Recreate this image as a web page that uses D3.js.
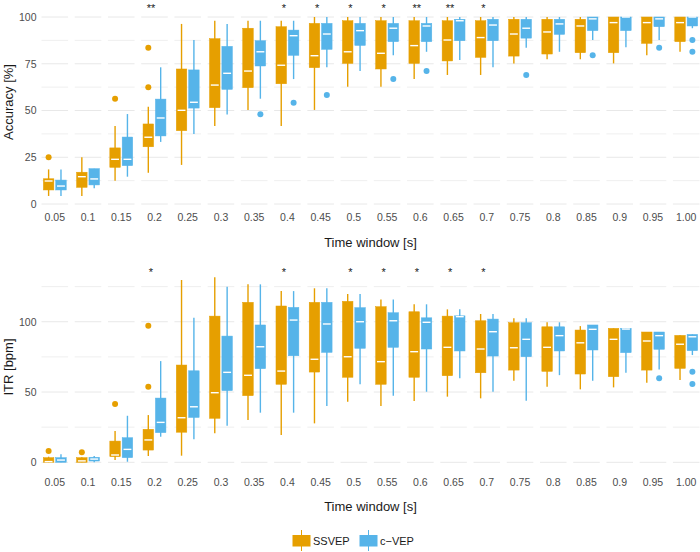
<!DOCTYPE html>
<html>
<head>
<meta charset="utf-8">
<script src="https://cdn.jsdelivr.net/npm/d3@7"></script>
<style>
  body { margin: 0; background: #fff; }
  svg text { font-family: "Liberation Sans", Arial, sans-serif; }
</style>
</head>
<body>
<svg id="chart" width="700" height="552"></svg>
<script>
// time windows (x categories)
const windows = ["0.05","0.1","0.15","0.2","0.25","0.3","0.35","0.4","0.45","0.5",
  "0.55","0.6","0.65","0.7","0.75","0.8","0.85","0.9","0.95","1.00"];
const groups = ["SSVEP", "c\u2212VEP"];
const colors = ["#E69F00", "#56B4E9"];

// box stats per window: [lower whisker, q1, median, q3, upper whisker]
const accSsvep = [
  [4.3,7.5,12.3,13.5,18.5],[4.3,8.9,14.6,17,25],[12.5,19.6,23.9,30,41.7],[16.7,30.6,35.7,42.8,52],
  [20.9,39.2,50.1,72.2,96.3],[41.7,51.5,63.6,88.4,98],[50.3,62.2,71.1,94,98],[41.7,64.3,74.2,94.8,98],
  [50.3,72.9,79.3,96.6,100],[62.7,75.2,81.4,98,100],[62.7,72.2,80.6,98,100],[66.8,75.2,84.7,98,100],
  [69,76.5,87.7,98,100],[69,78.4,89,98,100],[75.2,79.1,90.9,98.8,100],[77.4,80.2,92,98.8,100],
  [77.4,80.9,95.2,98.8,100],[75.2,80.9,97,100,100],[79.5,85.9,97,100,100],[81.4,86.8,97,100,100]
];
const accCvep = [
  [4.3,7.5,9.6,12.8,18.5],[8.4,10.2,13.4,18.9,18.9],[14.6,20.5,23.9,35.8,48.1],[33.2,36.4,46,56.1,73.1],
  [37.4,51.3,54.4,71.7,87.7],[47.9,61.3,69.9,84.3,96.3],[56.3,73.8,81.4,87.3,98],[66.8,79.5,90,93,98],
  [73.1,82.7,90.9,96.6,100],[71.1,84.8,92.7,96.6,100],[79.5,86.8,94,96.6,100],[81.4,86.8,95.2,96.6,100],
  [77,87.3,98,98.8,100],[73.1,87.3,95.7,98.8,100],[83.6,88.7,94,98.8,100],[81.4,90.7,96.3,98.8,100],
  [87.7,92.7,99,100,100],[83.8,92.7,100,100,100],[87.7,94.8,99,100,100],[94,95.2,100,100,100]
];
const accSsvepOut = [[25],[],[56.3],[62.4,83.6],[],[],[],[],[],[],[],[],[],[],[],[],[],[],[],[]];
const accCvepOut = [[],[],[],[],[],[],[48],[54.2],[58.3],[],[66.8],[71.1],[],[],[69],[],[79.5],[],[83.6],[87.7,81.4]];

const itrSsvep = [
  [0,0,0.5,3.3,4],[0,0,1,3.3,3.6],[1.6,4,5.2,15.1,22.3],[4.5,8.7,15.9,23.5,33.6],
  [4.7,21.4,31.7,69.2,129.7],[20.6,31.3,49.5,104,131.6],[30.1,47.4,61.9,113.8,126.6],[19.4,55.5,64.9,111.2,121.8],
  [27.7,64.2,73.3,113.8,123.8],[43.1,60.5,75.1,114.5,119.7],[40,55.5,71.6,110.7,115.9],[43.6,60.5,78.7,107.1,112.4],
  [46.7,61.6,81.8,104,108.8],[45.5,63.7,80.6,100.7,105.5],[58,65.6,81.5,99.3,102.4],[53.8,64.7,81.8,96.4,99.6],
  [51.9,62.8,85,94.1,96.9],[53.3,60.9,87.5,95.3,95.3],[56.6,65.6,86.3,92.7,92.7],[58.5,66.8,84,90.3,90.3]
];
const itrCvep = [
  [0,0,1.6,3.3,5.7],[0,0.9,2.3,3.6,4.5],[0.4,3.3,9.2,17.5,33.1],[18.2,21.1,28.4,45.7,72],
  [16.4,31.9,39.5,65.1,102.8],[26,51,64,89.8,124.9],[35.3,66.6,82.2,97.7,126.6],[35.3,75.8,101.2,110.2,121.8],
  [40,78.2,98.4,113.8,123.8],[55.5,81.1,100,110,119.7],[47.3,81.8,100.7,106.4,115.9],[50.2,80.6,99.6,102.8,112.4],
  [59.8,79.2,103.6,104.2,108.8],[50.2,75.6,92.9,101.9,105.5],[43.8,75.1,87.5,99.3,102.4],[62,79.2,90.1,96.4,99.6],
  [58,79.9,94.6,97.7,97.7],[63.7,78,94.8,95.3,95.3],[66.1,80.4,90.1,92.7,92.7],[76.3,79.4,89.3,91,91]
];
const itrSsvepOut = [[8],[7.1],[41.5],[53.8,97.2],[],[],[],[],[],[],[],[],[],[],[],[],[],[],[],[]];
const itrCvepOut = [[],[],[],[],[],[],[],[],[],[],[],[],[],[],[],[],[],[],[59.8],[64.5,55.7]];

// significance markers per window
const accSig = ["","","","**","","","","*","*","*","*","**","**","*","","","","","",""];
const itrSig = ["","","","*","","","","*","","*","*","*","*","*","","","","","",""];

// axis ticks and grid lines
const accTicks = [0, 25, 50, 75, 100];
const accGrid = [0, 12.5, 25, 37.5, 50, 62.5, 75, 87.5, 100];
const itrTicks = [0, 50, 100];
const itrGrid = [0, 25, 50, 75, 100, 125];

const svg = d3.select("#chart");

const x = d3.scaleBand()
  .domain(windows)
  .range([41.5, 699.5])
  .paddingInner(0.2)
  .paddingOuter(0);

const xg = d3.scaleBand()
  .domain(groups)
  .range([0, x.bandwidth()])
  .paddingInner(0.15)
  .paddingOuter(0.15);

const panels = [
  { title: "Accuracy [%]", y: d3.scaleLinear().domain([0, 100]).range([204, 17]),
    ticks: accTicks, grid: accGrid, stats: [accSsvep, accCvep], outs: [accSsvepOut, accCvepOut],
    sig: accSig, sigY: 12, axisY: 213.5, xTitleY: 247, yTitleY: 102 },
  { title: "ITR [bpm]", y: d3.scaleLinear().domain([0, 125]).range([462.3, 286.6]),
    ticks: itrTicks, grid: itrGrid, stats: [itrSsvep, itrCvep], outs: [itrSsvepOut, itrCvepOut],
    sig: itrSig, sigY: 276, axisY: 478.5, xTitleY: 511, yTitleY: 367 }
];

panels.forEach(p => {
  const g = svg.append("g");
  const y = p.y;

  // grid segments, one per facet
  windows.forEach(w => {
    g.selectAll(null)
      .data(p.grid)
      .enter()
      .append("line")
      .attr("x1", x(w))
      .attr("x2", x(w) + x.bandwidth())
      .attr("y1", d => y(d))
      .attr("y2", d => y(d))
      .attr("stroke", "#e8e8e8")
      .attr("stroke-width", d => p.ticks.includes(d) ? 1 : 0.7);
  });

  // y axis
  const yAxis = g.append("g")
    .attr("transform", "translate(41.5,0)")
    .call(d3.axisLeft(y).tickValues(p.ticks).tickSize(0).tickPadding(5));
  yAxis.select(".domain").remove();
  yAxis.selectAll("text").attr("font-size", 10.5).attr("fill", "#4d4d4d");

  // x axis
  const xAxis = g.append("g")
    .attr("transform", `translate(0,${p.axisY})`)
    .call(d3.axisBottom(x).tickSize(0).tickPadding(0.5));
  xAxis.select(".domain").remove();
  xAxis.selectAll("text").attr("font-size", 10.5).attr("fill", "#4d4d4d");

  // titles
  g.append("text")
    .attr("x", 370.5)
    .attr("y", p.xTitleY)
    .attr("text-anchor", "middle")
    .attr("font-size", 13)
    .attr("fill", "#1a1a1a")
    .text("Time window [s]");
  g.append("text")
    .attr("transform", `translate(13,${p.yTitleY}) rotate(-90)`)
    .attr("text-anchor", "middle")
    .attr("font-size", 13)
    .attr("fill", "#1a1a1a")
    .text(p.title);

  // boxes
  groups.forEach((grp, gi) => {
    const col = colors[gi];
    const bw = xg.bandwidth();
    const boxes = g.selectAll(null)
      .data(p.stats[gi].map((s, i) => ({ w: windows[i], s: s })))
      .enter()
      .append("g")
      .attr("transform", d => `translate(${x(d.w) + xg(grp)},0)`);

    boxes.append("line")
      .attr("x1", bw / 2).attr("x2", bw / 2)
      .attr("y1", d => y(d.s[0]))
      .attr("y2", d => y(d.s[4]))
      .attr("stroke", col)
      .attr("stroke-width", 1.4);

    boxes.append("rect")
      .attr("x", 0)
      .attr("width", bw)
      .attr("y", d => y(d.s[3]))
      .attr("height", d => Math.max(0.5, y(d.s[1]) - y(d.s[3])))
      .attr("fill", col)
      .attr("stroke", col)
      .attr("stroke-width", 0.5);

    boxes.append("line")
      .attr("x1", 1.3).attr("x2", bw - 1.3)
      .attr("y1", d => y(d.s[2]))
      .attr("y2", d => y(d.s[2]))
      .attr("stroke", "#ffffff")
      .attr("stroke-width", 1.4);

    // outliers
    p.outs[gi].forEach((vals, i) => {
      g.selectAll(null)
        .data(vals)
        .enter()
        .append("circle")
        .attr("cx", x(windows[i]) + xg(grp) + bw / 2)
        .attr("cy", d => y(d))
        .attr("r", 3)
        .attr("fill", col);
    });
  });

  // significance stars
  g.selectAll(null)
    .data(windows.map((w, i) => ({ w: w, s: p.sig[i] })).filter(d => d.s !== ""))
    .enter()
    .append("text")
    .attr("x", d => x(d.w) + x.bandwidth() / 2 - 3.5)
    .attr("y", p.sigY)
    .attr("text-anchor", "middle")
    .attr("font-size", 11)
    .attr("fill", "#1a1a1a")
    .text(d => d.s);
});

// legend
const legendX = [292.5, 359.5];
const legend = svg.append("g")
  .selectAll("g")
  .data(groups)
  .enter()
  .append("g")
  .attr("transform", (d, i) => `translate(${legendX[i]},0)`);

legend.append("line")
  .attr("x1", 9).attr("x2", 9)
  .attr("y1", 530).attr("y2", 551)
  .attr("stroke", (d, i) => colors[i])
  .attr("stroke-width", 1);
legend.append("rect")
  .attr("x", 0).attr("y", 535)
  .attr("width", 18).attr("height", 11.5)
  .attr("fill", (d, i) => colors[i]);
legend.append("text")
  .attr("x", 20.5)
  .attr("y", 544.5)
  .attr("font-size", 11)
  .attr("fill", "#1a1a1a")
  .text(d => d);
</script>
</body>
</html>
